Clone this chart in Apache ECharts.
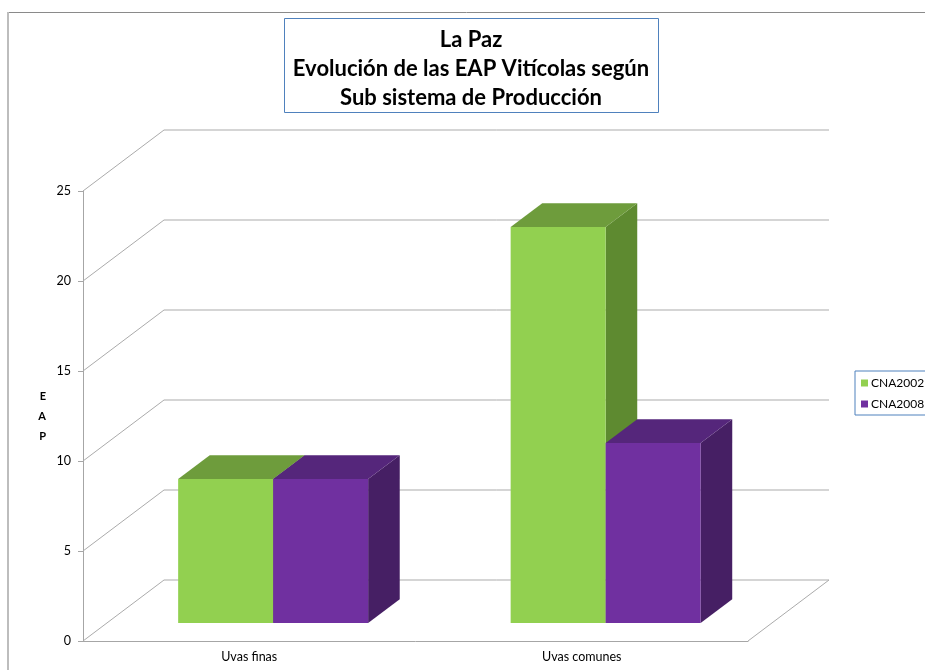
<!DOCTYPE html>
<html>
<head>
<meta charset="utf-8">
<title>La Paz - EAP Vitícolas</title>
<script src="https://cdn.jsdelivr.net/npm/echarts@6/dist/echarts.min.js"></script>
<style>
    html, body { margin: 0; padding: 0; background: #fff; }
    #chart { width: 925px; height: 670px; }
</style>
</head>
<body>
<div id="chart"></div>
<script>
// data
const categories = ['Uvas finas', 'Uvas comunes']
const cna2002 = [8, 22]
const cna2008 = [8, 10]
const yTicks = [0, 5, 10, 15, 20, 25]

// 3d look: depth of the walls and where the bars sit in it
const WALL_DX = 81
const WALL_DY = -61
const BAR_FRONT = 0.295
const BAR_DEPTH = 0.39
const BAR_FRAC = 0.2857

const colors = {
    grid: '#ababab',
    axis: '#a6a6a6',
    text: '#000',
    green: { front: '#92d050', top: '#6e9c3c', side: '#5e8a30' },
    purple: { front: '#7030a0', top: '#55267b', side: '#461f64' },
}

const font = 'Lato, "Open Sans", sans-serif'

function barRenderer(c, slot) {
    return function (params, api) {
        const cat = api.value(0)
        const v = api.value(1)
        const base = api.coord([cat, 0])
        const top = api.coord([cat, v])
        const band = api.size([1, 0])[0]
        const w = band * BAR_FRAC
        const fx = WALL_DX * BAR_FRONT
        const fy = WALL_DY * BAR_FRONT
        const ddx = WALL_DX * BAR_DEPTH
        const ddy = WALL_DY * BAR_DEPTH
        const x0 = base[0] + (slot === 0 ? -w : 0) + fx
        const x1 = x0 + w
        const yb = base[1] + fy
        const yt = top[1] + fy
        return {
            type: 'group',
            children: [
                {
                    type: 'polygon',
                    shape: { points: [[x1, yb], [x1, yt], [x1 + ddx, yt + ddy], [x1 + ddx, yb + ddy]] },
                    style: { fill: c.side },
                },
                {
                    type: 'polygon',
                    shape: { points: [[x0, yt], [x1, yt], [x1 + ddx, yt + ddy], [x0 + ddx, yt + ddy]] },
                    style: { fill: c.top },
                },
                {
                    type: 'rect',
                    shape: { x: x0, y: yt, width: w, height: yb - yt },
                    style: { fill: c.front },
                },
            ],
        }
    }
}

function wallRenderer(params, api) {
    const cs = params.coordSys
    const v = api.value(1)
    const y = api.coord([0, v])[1]
    const pts = [
        [cs.x, y],
        [cs.x + WALL_DX, y + WALL_DY],
        [cs.x + cs.width + WALL_DX, y + WALL_DY],
    ]
    if (v === 0) pts.push([cs.x + cs.width, y])
    return {
        type: 'polyline',
        shape: { points: pts },
        style: { stroke: colors.grid, lineWidth: 1, fill: null },
    }
}

const chart = echarts.init(document.getElementById('chart'))

chart.setOption({
    animation: false,
    backgroundColor: '#fff',
    textStyle: { fontFamily: font },
    graphic: [
        { type: 'line', shape: { x1: 8, y1: 12.5, x2: 925, y2: 12.5 }, style: { stroke: '#8a8a8a', lineWidth: 1 } },
        { type: 'line', shape: { x1: 8, y1: 12, x2: 8, y2: 670 }, style: { stroke: '#bdbdbd', lineWidth: 2 } },
        {
            type: 'rect',
            shape: { x: 284.5, y: 18.5, width: 374, height: 94 },
            style: { fill: '#fff', stroke: '#4f81bd', lineWidth: 1 },
        },
        {
            type: 'text',
            x: 471,
            y: 25,
            style: {
                text: 'La Paz\nEvolución de las EAP Vitícolas según\nSub sistema de Producción',
                fill: colors.text,
                font: 'bold 22px ' + font,
                textAlign: 'center',
                lineHeight: 29,
            },
        },
    ],
    legend: {
        data: ['CNA2002', 'CNA2008'],
        orient: 'vertical',
        left: 855,
        top: 371,
        padding: [6, 12, 5, 6],
        itemWidth: 7,
        itemHeight: 7,
        itemGap: 9,
        icon: 'rect',
        borderColor: '#4f81bd',
        borderWidth: 1,
        textStyle: { color: colors.text, fontSize: 12, fontFamily: font, padding: [0, 0, 0, -2] },
    },
    grid: { left: 83, top: 191, right: 177, bottom: 29 },
    xAxis: {
        type: 'category',
        data: categories,
        axisLine: { lineStyle: { color: colors.axis } },
        axisTick: { length: 4, lineStyle: { color: colors.axis } },
        axisLabel: { color: colors.text, fontSize: 12.5, margin: 9 },
        splitLine: { show: false },
    },
    yAxis: {
        type: 'value',
        min: 0,
        max: 25,
        interval: 5,
        name: 'E\nA\nP',
        nameLocation: 'middle',
        nameRotate: 0,
        nameGap: 37,
        nameTextStyle: { color: colors.text, fontSize: 11, fontWeight: 'bold', lineHeight: 20 },
        axisLine: { show: true, lineStyle: { color: colors.axis } },
        axisTick: { show: true, length: 5, lineStyle: { color: colors.axis } },
        axisLabel: { color: colors.text, fontSize: 12.5, margin: 12 },
        splitLine: { show: false },
    },
    series: [
        {
            name: 'walls',
            type: 'custom',
            silent: true,
            z: 1,
            data: yTicks.map((t) => [0, t]),
            encode: { x: 0, y: 1 },
            renderItem: wallRenderer,
        },
        {
            name: 'CNA2002',
            type: 'custom',
            z: 2,
            itemStyle: { color: colors.green.front },
            data: cna2002.map((v, i) => [i, v]),
            encode: { x: 0, y: 1 },
            renderItem: barRenderer(colors.green, 0),
        },
        {
            name: 'CNA2008',
            type: 'custom',
            z: 3,
            itemStyle: { color: colors.purple.front },
            data: cna2008.map((v, i) => [i, v]),
            encode: { x: 0, y: 1 },
            renderItem: barRenderer(colors.purple, 1),
        },
    ],
})
</script>
</body>
</html>
